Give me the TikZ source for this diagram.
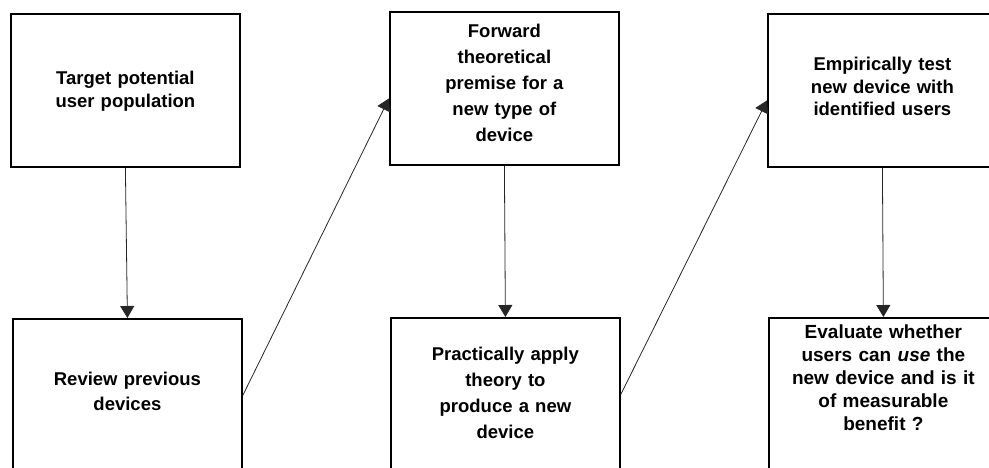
\documentclass[tikz,border=0pt]{standalone}
\usepackage{fontspec}
\setmainfont{Liberation Sans}
\usetikzlibrary{arrows.meta}
\tikzset{
  box/.style={draw=black, line width=1.8pt, fill=white, minimum width=229pt, minimum height=153pt,
    inner sep=0pt, anchor=north west},
  boxtext/.style={inner sep=0pt, align=center, text width=210pt},
  conn/.style={draw=black!85, line width=0.8pt, -{Triangle[width=14pt,length=12pt]}}
}
\newcommand{\fsz}[1]{\bfseries\fontsize{18.5}{#1}\selectfont}
\begin{document}
\begin{tikzpicture}[x=1pt,y=-1pt]
\useasboundingbox (0,0) rectangle (989,467);
\node[box] (b1) at (10,13) {};
\node[box] (b2) at (12,318) {};
\node[box] (b3) at (389,11) {};
\node[box] (b4) at (390,317) {};
\node[box] (b5) at (767,13) {};
\node[box] (b6) at (768,317) {};
\node[boxtext, font=\fsz{23}] (t1) at ([yshift=-1pt]b1.center) {Target potential\\user population};
\node[boxtext, font=\fsz{25}] (t2) at ([yshift=4pt]b2.center) {Review previous\\devices};
\node[boxtext, font=\fsz{26}] (t3) at ([yshift=6pt]b3.center) {Forward\\theoretical\\premise for a\\new type of\\device};
\node[boxtext, font=\fsz{26}] (t4) at ([yshift=2pt]b4.center) {Practically apply\\theory to\\produce a new\\device};
\node[boxtext, font=\fsz{22.5}] (t5) at ([yshift=4pt]b5.center) {Empirically test\\new device with\\identified users};
\node[boxtext, font=\bfseries\fontsize{19}{23}\selectfont] (t6) at ([yshift=17pt]b6.center) {Evaluate whether\\users can \textit{use} the\\new device and is it\\of measurable\\benefit ?};
\draw[conn] (b1.south) -- (b2.north);
\draw[conn] (b3.south) -- (b4.north);
\draw[conn] (b5.south) -- (b6.north);
\draw[conn] (b2.east) -- ([yshift=-10pt]b3.west);
\draw[conn] (b4.east) -- ([yshift=-10pt]b5.west);
\end{tikzpicture}
\end{document}
